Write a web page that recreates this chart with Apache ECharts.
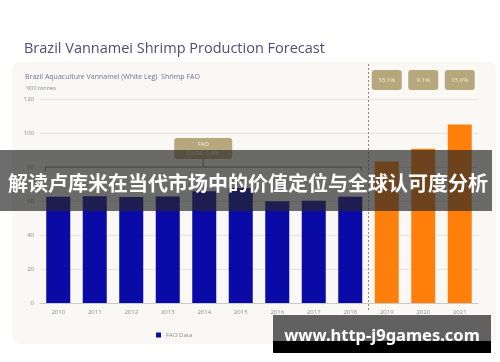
<!DOCTYPE html>
<html><head><meta charset="utf-8">
<script src="https://cdn.jsdelivr.net/npm/echarts@6/dist/echarts.min.js"></script>
<style>html,body{margin:0;padding:0;background:#fff}#c{width:500px;height:362px}</style>
</head><body><div id="c"></div>
<script>
const years = ['2010','2011','2012','2013','2014','2015','2016','2017','2018','2019','2020','2021'];
const faoData = [62.5,62.8,62.4,62.6,65.7,67.6,59.8,60.2,62.5,null,null,null];
const goalSurvey = [null,null,null,null,null,null,null,null,null,83.2,90.8,105];
const growthLabels = ['33.1%','9.1%','15.6%'];
const growthYears = ['2019','2020','2021'];
const cagrText = ['FAO','CAGR -1.4%'];
const titleText = 'Brazil Vannamei Shrimp Production Forecast';
const subtitleText = 'Brazil Aquaculture Vannamei (White Leg)  Shrimp FAO';
const unitText = "'000 tonnes";
const bannerText = '解读卢库米在当代市场中的价值定位与全球认可度分析';
const siteText = 'www.http-j9games.com';

const chart = echarts.init(document.getElementById('c'));
const baseFont = 'Open Sans';
chart.setOption({
  animation: false,
  backgroundColor: '#ffffff',
  textStyle: {fontFamily: baseFont},
  title: [
    {text: titleText, left: 19, top: 36, textStyle: {fontFamily: baseFont, fontSize: 14.5, fontWeight: 'normal', color: '#4d4f72'}},
    {text: subtitleText, left: 20, top: 68, textStyle: {fontFamily: baseFont, fontSize: 7, fontWeight: 'normal', color: '#6e7098'}},
    {text: unitText, left: 21, top: 80, textStyle: {fontFamily: baseFont, fontSize: 5.5, fontWeight: 'normal', color: '#8a8a8a'}}
  ],
  legend: {
    left: 151, top: 327, itemWidth: 5, itemHeight: 5, itemGap: 122, icon: 'rect',
    textStyle: {fontSize: 6, color: '#8a8a8a', fontFamily: baseFont},
    data: ['FAO Data', 'GOAL Survey']
  },
  grid: {left: 40, right: 22, top: 99, bottom: 59, containLabel: false},
  xAxis: {
    type: 'category', data: years,
    axisTick: {show: false},
    axisLine: {lineStyle: {color: '#c9c9c9', width: 1}},
    axisLabel: {fontSize: 6, color: '#8c8c8c', margin: 6}
  },
  yAxis: {
    type: 'value', min: 0, max: 120, interval: 20,
    axisLine: {show: false}, axisTick: {show: false},
    axisLabel: {fontSize: 6, color: '#8c8c8c', margin: 6},
    splitLine: {lineStyle: {color: '#e6e4dd', width: 1}}
  },
  series: [
    {name: 'FAO Data', type: 'bar', data: faoData, barWidth: 24, barGap: '-100%', itemStyle: {color: '#0a0aa6'}},
    {name: 'GOAL Survey', type: 'bar', data: goalSurvey, barWidth: 24, barGap: '-100%', itemStyle: {color: '#ff7f0a'}}
  ]
});

function px(cat) { return chart.convertToPixel({xAxisIndex: 0}, cat); }
function py(v) { return chart.convertToPixel({yAxisIndex: 0}, v); }

const g = [];
g.push({type: 'rect', z: -10, shape: {x: 12, y: 62, width: 484, height: 282, r: 8}, style: {fill: '#f9f8f4'}});
const divX = (px('2018') + px('2019')) / 2;
g.push({type: 'line', z: 5, shape: {x1: divX, y1: 64, x2: divX, y2: 311}, style: {stroke: '#b07a70', lineWidth: 1, lineDash: [2, 2]}});
growthYears.forEach((yr, i) => {
  const cx = px(yr);
  g.push({type: 'rect', z: 5, shape: {x: cx - 15, y: 70, width: 30, height: 20, r: 3}, style: {fill: '#b6a87c'}});
  g.push({type: 'text', z: 6, style: {x: cx, y: 80, text: growthLabels[i], align: 'center', verticalAlign: 'middle', fill: '#f1ecdc', font: '6px "Open Sans"'}});
});
const bx1 = px('2010') - 13, bx2 = px('2018') + 11, by = py(80);
const bmid = (bx1 + bx2) / 2;
g.push({type: 'polyline', z: 5, shape: {points: [[bx1, by + 4], [bx1, by], [bx2, by], [bx2, by + 4]]}, style: {stroke: '#7f7f7f', lineWidth: 1, fill: null}});
g.push({type: 'line', z: 5, shape: {x1: bmid, y1: by, x2: bmid, y2: by - 8}, style: {stroke: '#7f7f7f', lineWidth: 1}});
g.push({type: 'rect', z: 5, shape: {x: bmid - 29, y: 138, width: 58, height: 21, r: 3}, style: {fill: '#b6a87c'}});
g.push({type: 'text', z: 6, style: {x: bmid, y: 144, text: cagrText[0], align: 'center', verticalAlign: 'middle', fill: '#f1ecdc', font: '6px "Open Sans"'}});
g.push({type: 'text', z: 6, style: {x: bmid, y: 153, text: cagrText[1], align: 'center', verticalAlign: 'middle', fill: '#f1ecdc', font: '6px "Open Sans"'}});
g.push({type: 'rect', z: 100, shape: {x: 0, y: 150, width: 492, height: 61}, style: {fill: 'rgba(38,38,38,0.68)'}});
g.push({type: 'text', z: 101, style: {x: 248, y: 183, text: bannerText, align: 'center', verticalAlign: 'middle', fill: '#ffffff', font: 'bold 20px "Noto Sans CJK SC"'}});
g.push({type: 'rect', z: 100, shape: {x: 273, y: 315, width: 218, height: 26}, style: {fill: 'rgba(70,70,70,0.85)'}});
g.push({type: 'rect', z: 100, shape: {x: 273, y: 341, width: 218, height: 12}, style: {fill: '#000000'}});
g.push({type: 'text', z: 101, style: {x: 382, y: 336, text: siteText, align: 'center', verticalAlign: 'middle', fill: '#ffffff', font: 'bold 16.5px "Noto Sans"'}});
chart.setOption({graphic: g});
</script>
</body></html>
